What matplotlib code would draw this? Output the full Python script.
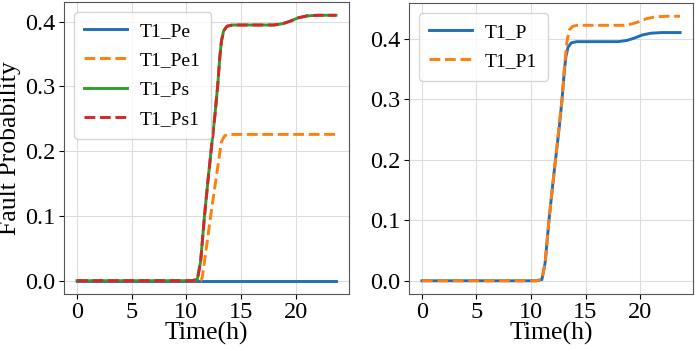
import matplotlib
matplotlib.use("Agg")
import matplotlib.pyplot as plt

plt.rcParams['font.family'] = ['Liberation Serif', 'DejaVu Serif']

# Data
t_s = [0, 10.5, 11.0, 11.3, 11.65, 12.0, 12.25, 12.6, 12.85, 13.05, 13.2, 13.4, 13.7, 14.2, 18.0, 18.8, 19.5, 20.2, 21.0, 22.0, 23.67]
ps = [0, 0, 0.002, 0.03, 0.10, 0.16, 0.20, 0.255, 0.30, 0.345, 0.37, 0.386, 0.393, 0.395, 0.395, 0.397, 0.401, 0.406, 0.409, 0.41, 0.41]

t_pe = [0, 23.67]
pe = [0, 0]

t_pe1 = [0, 11.3, 11.45, 12.3, 13.2, 13.5, 13.8, 23.67]
pe1 = [0, 0, 0.005, 0.11, 0.215, 0.224, 0.226, 0.226]

t_p1 = [0, 10.5, 11.0, 11.3, 11.65, 12.0, 12.25, 12.6, 12.85, 13.1, 13.3, 13.5, 13.8, 14.2, 18.5, 19.2, 19.9, 20.6, 21.4, 22.5, 23.67]
p1 = [0, 0, 0.002, 0.03, 0.10, 0.16, 0.20, 0.26, 0.30, 0.36, 0.395, 0.414, 0.42, 0.422, 0.422, 0.424, 0.428, 0.433, 0.436, 0.437, 0.437]

xticks = [0, 5, 10, 15, 20]
yticks = [0.0, 0.1, 0.2, 0.3, 0.4]

W, H = 699, 351
fig = plt.figure(figsize=(W / 100, H / 100), dpi=100)
ax1 = fig.add_axes([64 / W, (H - 294) / H, (349 - 64) / W, (294 - 2) / H])
ax2 = fig.add_axes([409 / W, (H - 294) / H, (693 - 409) / W, (294 - 3) / H])

blue = '#1f6fb8'
orange = '#ff7f0e'
green = '#2ca02c'
red = '#d62728'
lw = 2.1

ax1.plot(t_pe, pe, color=blue, lw=lw, label='T1_Pe')
ax1.plot(t_pe1, pe1, color=orange, lw=lw, ls='--', label='T1_Pe1')
ax1.plot(t_s, ps, color=green, lw=lw, label='T1_Ps')
ax1.plot(t_s, ps, color=red, lw=lw, ls='--', label='T1_Ps1')

ax2.plot(t_s, ps, color=blue, lw=lw, label='T1_P')
ax2.plot(t_p1, p1, color=orange, lw=lw, ls='--', label='T1_P1')

for ax in (ax1, ax2):
    ax.set_xticks(xticks)
    ax.set_yticks(yticks)
    ax.tick_params(labelsize=17.5, pad=2.5)
    ax.grid(True, color='#dddddd', lw=0.8)
    ax.set_axisbelow(True)
    ax.set_xlabel('Time(h)', fontsize=18.5, labelpad=-1)
    for sp in ax.spines.values():
        sp.set_color('#555555')
    ax.legend(loc='upper left', fontsize=14, handlelength=2.2, handletextpad=0.65,
              labelspacing=0.6, borderpad=0.55, borderaxespad=0.5, framealpha=0.8)

ax1.set_ylabel('Fault Probability', fontsize=18.5, labelpad=3)

fig.savefig('out.png', dpi=100)
